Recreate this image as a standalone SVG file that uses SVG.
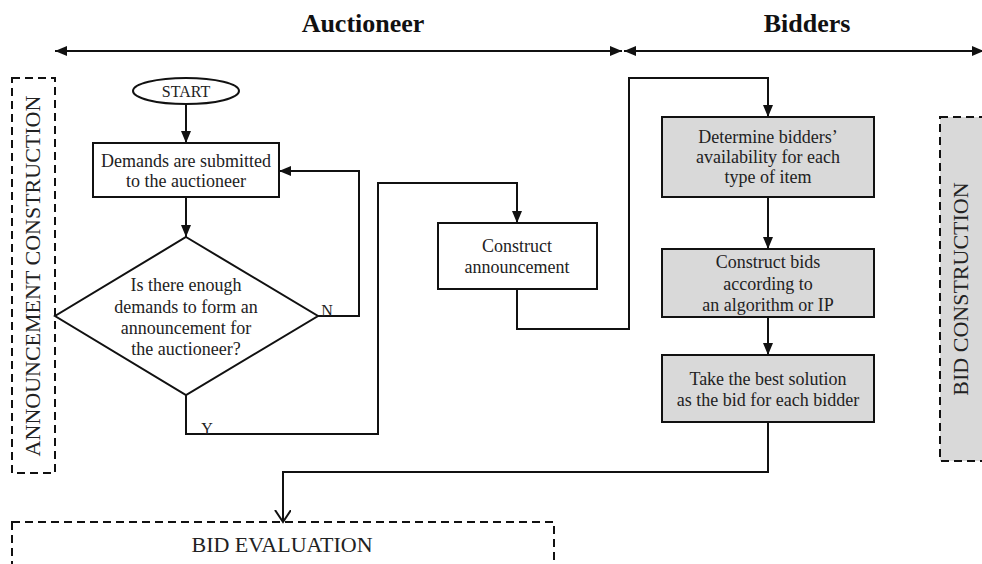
<svg xmlns="http://www.w3.org/2000/svg" width="982" height="564" viewBox="0 0 982 564">
<style>
text{font-family:"Liberation Serif","Times New Roman",serif;fill:#222;}
.t{font-size:18px;text-anchor:middle;}
.h{font-size:26px;font-weight:bold;text-anchor:middle;fill:#111;}
.v{font-size:22px;text-anchor:middle;}
.box{fill:#fff;stroke:#111;stroke-width:2;}
.gbox{fill:#d9d9d9;stroke:#111;stroke-width:2;}
.dash{stroke:#111;stroke-width:2;stroke-dasharray:8 5;}
.ln{fill:none;stroke:#111;stroke-width:2;}
</style>
<defs>
<marker id="ah" markerUnits="userSpaceOnUse" markerWidth="14" markerHeight="12" refX="12" refY="5" orient="auto">
<path d="M0,0 L12,5 L0,10 z" fill="#111"/>
</marker>
<marker id="ahs" markerUnits="userSpaceOnUse" markerWidth="14" markerHeight="12" refX="12" refY="5" orient="auto-start-reverse">
<path d="M0,0 L12,5 L0,10 z" fill="#111"/>
</marker>
<marker id="open" markerUnits="userSpaceOnUse" markerWidth="14" markerHeight="18" refX="12" refY="8" orient="auto">
<path d="M0,0 L12,8 L0,16" fill="none" stroke="#111" stroke-width="2"/>
</marker>
</defs>

<g id="headers">
<text class="h" x="363" y="32">Auctioneer</text>
<text class="h" x="807" y="32">Bidders</text>
</g>

<g id="announcement-construction">
<rect x="12" y="78" width="43" height="395" fill="none" class="dash"/>
<text class="v" transform="translate(40,276) rotate(-90)">ANNOUNCEMENT CONSTRUCTION</text>
</g>

<g id="bid-construction">
<rect x="940" y="117" width="60" height="344" fill="#d9d9d9" class="dash"/>
<text class="v" transform="translate(968,289) rotate(-90)">BID CONSTRUCTION</text>
</g>

<g id="bid-evaluation">
<rect x="12" y="522" width="542" height="60" fill="none" class="dash"/>
<text class="v" x="282" y="552">BID EVALUATION</text>
</g>

<g id="start">
<ellipse cx="186" cy="91" rx="53" ry="13" class="box"/>
<text x="186" y="97" style="font-size:16px;text-anchor:middle">START</text>
</g>

<g id="demands">
<rect x="93" y="143" width="186" height="54" class="box"/>
<text class="t" x="186" y="167">Demands are submitted</text>
<text class="t" x="186" y="187">to the auctioneer</text>
</g>

<g id="decision">
<polygon points="186,237 318,316 186,395 55,316" class="box"/>
<text class="t" x="186" y="291">Is there enough</text>
<text class="t" x="186" y="313">demands to form an</text>
<text class="t" x="186" y="334">announcement for</text>
<text class="t" x="186" y="355">the auctioneer?</text>
</g>

<g id="construct-announcement">
<rect x="438" y="223" width="159" height="66" class="box"/>
<text class="t" x="517" y="252">Construct</text>
<text class="t" x="517" y="273">announcement</text>
</g>

<g id="determine">
<rect x="662" y="117" width="212" height="80" class="gbox"/>
<text class="t" x="768" y="143">Determine bidders’</text>
<text class="t" x="768" y="163">availability for each</text>
<text class="t" x="768" y="183">type of item</text>
</g>

<g id="construct-bids">
<rect x="662" y="249" width="212" height="68" class="gbox"/>
<text class="t" x="768" y="268">Construct bids</text>
<text class="t" x="768" y="290">according to</text>
<text class="t" x="768" y="311">an algorithm or IP</text>
</g>

<g id="take-best">
<rect x="662" y="355" width="212" height="67" class="gbox"/>
<text class="t" x="768" y="385">Take the best solution</text>
<text class="t" x="768" y="406">as the bid for each bidder</text>
</g>

<g id="connectors">
<line x1="55" y1="51" x2="622" y2="51" class="ln" marker-start="url(#ahs)" marker-end="url(#ah)"/>
<line x1="624" y1="51" x2="984" y2="51" class="ln" marker-start="url(#ahs)" marker-end="url(#ah)"/>
<line x1="186" y1="104" x2="186" y2="143" class="ln" marker-end="url(#ah)"/>
<line x1="186" y1="197" x2="186" y2="237" class="ln" marker-end="url(#ah)"/>
<polyline points="318,316 359,316 359,171 279,171" class="ln" marker-end="url(#ah)"/>
<polyline points="186,395 186,434 378,434 378,183 517,183 517,223" class="ln" marker-end="url(#ah)"/>
<polyline points="517,289 517,329 629,329 629,78 768,78 768,117" class="ln" marker-end="url(#ah)"/>
<line x1="768" y1="197" x2="768" y2="249" class="ln" marker-end="url(#ah)"/>
<line x1="768" y1="317" x2="768" y2="355" class="ln" marker-end="url(#ah)"/>
<polyline points="768,422 768,472 283,472 283,522" class="ln" marker-end="url(#open)"/>
<text x="327" y="316" style="font-size:16px;text-anchor:middle">N</text>
<text x="207" y="434" style="font-size:16px;text-anchor:middle">Y</text>
</g>
</svg>
